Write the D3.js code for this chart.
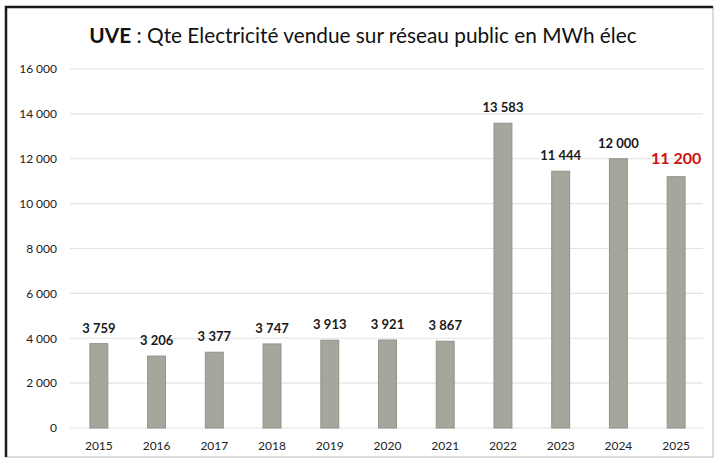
<!DOCTYPE html>
<html>
<head>
<meta charset="utf-8">
<script src="https://cdn.jsdelivr.net/npm/d3@7"></script>
<style>
  html, body { margin: 0; padding: 0; background: #fff; }
  svg { display: block; font-family: Lato, "Open Sans", sans-serif; }
</style>
</head>
<body>
<svg id="chart" width="715" height="463"></svg>
<script>
// data
var years = ["2015", "2016", "2017", "2018", "2019", "2020", "2021", "2022", "2023", "2024", "2025"];
var values = [3759, 3206, 3377, 3747, 3913, 3921, 3867, 13583, 11444, 12000, 11200];
var yTicks = [0, 2000, 4000, 6000, 8000, 10000, 12000, 14000, 16000];

var svg = d3.select("#chart");

// frame of the scanned chart
svg.append("rect")
  .attr("x", 6).attr("y", 7)
  .attr("width", 707).attr("height", 450)
  .attr("fill", "#fff")
  .attr("stroke", "#cfcfcf").attr("stroke-width", 1.5);
svg.append("path")
  .attr("d", "M6,457 L6,7 L713,7")
  .attr("fill", "none")
  .attr("stroke", "#1a1a1a").attr("stroke-width", 2.5);

var x = d3.scaleBand().domain(years).range([70, 705]).paddingInner(0.69).paddingOuter(0.345);
var y = d3.scaleLinear().domain([0, 16000]).range([428, 69]);

var fmt = function (v) { return d3.format(",")(v).replace(/,/g, "\u202f"); };

// gridlines
svg.append("g").selectAll("line").data(yTicks).join("line")
  .attr("x1", 70).attr("x2", 703)
  .attr("y1", function (d) { return y(d); })
  .attr("y2", function (d) { return y(d); })
  .attr("stroke", "#e3e3e3").attr("stroke-width", 1.2);

// y axis labels
var yAxis = d3.axisLeft(y).tickValues(yTicks).tickSize(0).tickPadding(0).tickFormat(fmt);
svg.append("g").attr("transform", "translate(57,0)").call(yAxis)
  .call(function (g) { g.select(".domain").remove(); })
  .selectAll("text")
  .attr("font-family", "Lato, sans-serif").attr("font-size", 12).attr("fill", "#222");

// x axis labels
var xAxis = d3.axisBottom(x).tickSize(0).tickPadding(0);
svg.append("g").attr("transform", "translate(0,441)").call(xAxis)
  .call(function (g) { g.select(".domain").remove(); })
  .selectAll("text")
  .attr("font-family", "Lato, sans-serif").attr("font-size", 12).attr("fill", "#222");

// bars
svg.append("g").selectAll("rect").data(values).join("rect")
  .attr("x", function (d, i) { return x(years[i]); })
  .attr("y", function (d) { return y(d); })
  .attr("width", x.bandwidth())
  .attr("height", function (d) { return y(0) - y(d); })
  .attr("fill", "#a4a89c")
  .attr("stroke", "#8e9288").attr("stroke-width", 1);

// value labels
svg.append("g").selectAll("text").data(values).join("text")
  .attr("x", function (d, i) { return x(years[i]) + x.bandwidth() / 2; })
  .attr("y", function (d, i) { return y(d) - (i === 10 ? 13 : 11); })
  .attr("text-anchor", "middle")
  .attr("font-family", "Lato, sans-serif")
  .attr("font-weight", "bold")
  .attr("font-size", function (d, i) { return i === 10 ? 16 : 13; })
  .attr("fill", function (d, i) { return i === 10 ? "#d01010" : "#1a1a1a"; })
  .text(fmt);

// title
var title = svg.append("text")
  .attr("x", 363).attr("y", 43)
  .attr("text-anchor", "middle")
  .attr("font-family", "Lato, sans-serif")
  .attr("font-size", 20.8).attr("fill", "#111");
title.append("tspan").attr("font-weight", "bold").text("UVE");
title.append("tspan").text(" : Qte Electricité vendue sur réseau public en MWh élec");
</script>
</body>
</html>
